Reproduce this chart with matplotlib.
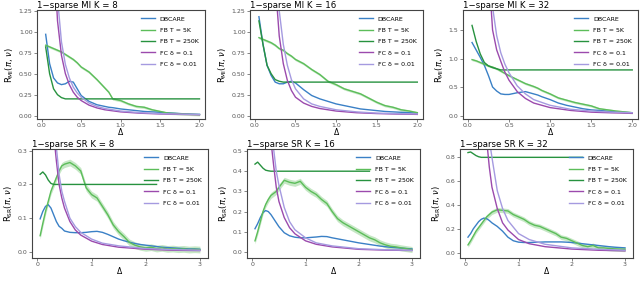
import numpy as np
import matplotlib
matplotlib.use("Agg")
import matplotlib.pyplot as plt

# ---- data ----
labels = ["DBCARE", "FB T = 5K", "FB T = 250K", "FC δ = 0.1", "FC δ = 0.01"]
colors = ["#3a80c6", "#5cbd5a", "#27923f", "#9b4aad", "#a59ae0"]

titles = ["1\u2212sparse MI K = 8", "1\u2212sparse MI K = 16", "1\u2212sparse MI K = 32",
          "1\u2212sparse SR K = 8", "1\u2212sparse SR K = 16", "1\u2212sparse SR K = 32"]

# top row (MI), common grid for DBCARE / FB curves
x_mi = [0.05, 0.1, 0.15, 0.2, 0.25, 0.3, 0.35, 0.4, 0.45, 0.5, 0.6, 0.7, 0.8,
        0.85, 0.9, 1.0, 1.1, 1.2, 1.3, 1.4, 1.5, 1.6, 1.7, 1.8, 1.9, 2.0]
fc_x_mi = [0.15, 0.2, 0.25, 0.3, 0.35, 0.4, 0.45, 0.5, 0.6, 0.7, 0.8, 1.0, 1.25, 1.5, 1.75, 2.0]

mi8_db = [0.97, 0.62, 0.45, 0.39, 0.37, 0.38, 0.41, 0.40, 0.32, 0.24, 0.17, 0.13, 0.11,
          0.10, 0.095, 0.08, 0.07, 0.06, 0.05, 0.045, 0.04, 0.033, 0.028, 0.022, 0.018, 0.015]
mi8_fb5 = [0.84, 0.82, 0.80, 0.78, 0.76, 0.73, 0.70, 0.67, 0.63, 0.58, 0.52, 0.43, 0.33,
           0.28, 0.20, 0.18, 0.14, 0.11, 0.10, 0.07, 0.05, 0.03, 0.025, 0.02, 0.015, 0.012]
mi8_fb250 = [0.82, 0.50, 0.32, 0.25, 0.215, 0.20, 0.20, 0.20, 0.20, 0.20, 0.20, 0.20, 0.20,
             0.20, 0.20, 0.20, 0.20, 0.20, 0.20, 0.20, 0.20, 0.20, 0.20, 0.20, 0.20, 0.20]
mi8_fc1 = [2.0, 1.13, 0.72, 0.50, 0.37, 0.28, 0.22, 0.18, 0.125, 0.092, 0.07, 0.045, 0.029, 0.02, 0.015, 0.011]
mi8_fc01 = [2.4, 1.4, 0.88, 0.61, 0.45, 0.34, 0.27, 0.22, 0.15, 0.11, 0.085, 0.055, 0.035, 0.024, 0.018, 0.014]

mi16_db = [1.18, 0.85, 0.60, 0.48, 0.40, 0.38, 0.38, 0.40, 0.41, 0.39, 0.31, 0.24, 0.20,
           0.185, 0.17, 0.14, 0.12, 0.10, 0.08, 0.07, 0.06, 0.05, 0.045, 0.04, 0.035, 0.03]
mi16_fb5 = [0.93, 0.91, 0.89, 0.87, 0.84, 0.80, 0.78, 0.74, 0.71, 0.67, 0.62, 0.55, 0.49,
            0.45, 0.41, 0.37, 0.32, 0.29, 0.26, 0.21, 0.16, 0.12, 0.10, 0.07, 0.055, 0.035]
mi16_fb250 = [1.13, 0.85, 0.60, 0.50, 0.43, 0.41, 0.40, 0.40, 0.40, 0.40, 0.40, 0.40, 0.40,
              0.40, 0.40, 0.40, 0.40, 0.40, 0.40, 0.40, 0.40, 0.40, 0.40, 0.40, 0.40, 0.40]
mi16_fc1 = [4.0, 2.5, 1.6, 0.95, 0.62, 0.42, 0.30, 0.22, 0.15, 0.11, 0.085, 0.055, 0.035, 0.025, 0.019, 0.015]
mi16_fc01 = [5.0, 3.0, 1.9, 1.25, 0.85, 0.60, 0.43, 0.32, 0.20, 0.14, 0.11, 0.07, 0.045, 0.03, 0.024, 0.02]

mi32_db = [1.28, 1.15, 1.02, 0.88, 0.70, 0.50, 0.43, 0.38, 0.37, 0.37, 0.40, 0.42, 0.38,
           0.36, 0.33, 0.28, 0.22, 0.18, 0.15, 0.12, 0.10, 0.09, 0.075, 0.065, 0.055, 0.05]
mi32_fb5 = [0.98, 0.96, 0.93, 0.90, 0.87, 0.85, 0.82, 0.78, 0.74, 0.70, 0.63, 0.56, 0.51,
            0.48, 0.44, 0.38, 0.31, 0.27, 0.23, 0.20, 0.17, 0.12, 0.10, 0.08, 0.065, 0.05]
mi32_fb250 = [1.58, 1.30, 1.08, 0.93, 0.87, 0.84, 0.82, 0.80, 0.80, 0.80, 0.80, 0.80, 0.80,
              0.80, 0.80, 0.80, 0.80, 0.80, 0.80, 0.80, 0.80, 0.80, 0.80, 0.80, 0.80, 0.80]
mi32_fc1 = [6.0, 4.0, 2.6, 1.5, 1.15, 0.95, 0.76, 0.62, 0.42, 0.30, 0.22, 0.14, 0.09, 0.06, 0.048, 0.04]
mi32_fc01 = [7.0, 5.0, 3.2, 1.9, 1.4, 1.1, 0.90, 0.75, 0.52, 0.38, 0.28, 0.18, 0.11, 0.08, 0.06, 0.05]

# bottom row (SR)
x_sr = [0.05, 0.1, 0.15, 0.2, 0.25, 0.3, 0.35, 0.4, 0.45, 0.5, 0.6, 0.7, 0.8, 0.9, 1.0,
        1.1, 1.2, 1.3, 1.4, 1.5, 1.6, 1.7, 1.8, 1.9, 2.0, 2.1, 2.2, 2.3, 2.4, 2.5,
        2.6, 2.7, 2.8, 2.9, 3.0]
x_fb250_sr = [0.05, 0.1, 0.15, 0.2, 0.25, 0.3, 0.35, 0.4, 0.5, 1.0, 1.5, 2.0, 2.2]
fc_x_sr = [0.2, 0.25, 0.3, 0.35, 0.4, 0.45, 0.5, 0.6, 0.7, 0.8, 1.0, 1.2, 1.5, 2.0, 2.5, 3.0]

sr8_db = [0.098, 0.12, 0.135, 0.14, 0.13, 0.11, 0.09, 0.076, 0.07, 0.062, 0.058, 0.057, 0.057,
          0.058, 0.06, 0.061, 0.058, 0.052, 0.045, 0.038, 0.033, 0.029, 0.025, 0.022, 0.02,
          0.018, 0.016, 0.014, 0.013, 0.012, 0.011, 0.01, 0.009, 0.009, 0.008]
sr8_fb5 = [0.048, 0.085, 0.12, 0.15, 0.18, 0.20, 0.22, 0.24, 0.255, 0.26, 0.265, 0.255, 0.24,
           0.19, 0.17, 0.16, 0.135, 0.11, 0.08, 0.06, 0.045, 0.028, 0.02, 0.015, 0.012,
           0.014, 0.01, 0.012, 0.009, 0.01, 0.008, 0.009, 0.007, 0.008, 0.007]
sr8_fb250 = [0.23, 0.237, 0.228, 0.213, 0.203, 0.20, 0.20, 0.20, 0.20, 0.20, 0.20, 0.20, 0.20]
sr8_fc1 = [0.8, 0.5, 0.35, 0.27, 0.20, 0.16, 0.13, 0.09, 0.065, 0.05, 0.032, 0.022, 0.014, 0.008, 0.005, 0.004]
sr8_fc01 = [0.9, 0.6, 0.40, 0.31, 0.23, 0.18, 0.15, 0.10, 0.075, 0.058, 0.038, 0.026, 0.018, 0.01, 0.007, 0.005]

sr16_db = [0.115, 0.14, 0.17, 0.195, 0.205, 0.20, 0.185, 0.165, 0.145, 0.125, 0.095, 0.08, 0.073,
           0.07, 0.07, 0.072, 0.074, 0.077, 0.076, 0.07, 0.065, 0.06, 0.055, 0.05, 0.045,
           0.041, 0.037, 0.033, 0.029, 0.026, 0.023, 0.021, 0.019, 0.017, 0.015]
sr16_fb5 = [0.055, 0.10, 0.15, 0.20, 0.235, 0.26, 0.28, 0.29, 0.30, 0.32, 0.355, 0.345, 0.34,
            0.35, 0.32, 0.30, 0.285, 0.26, 0.24, 0.20, 0.165, 0.145, 0.13, 0.115, 0.10,
            0.085, 0.07, 0.06, 0.045, 0.035, 0.028, 0.025, 0.02, 0.016, 0.012]
sr16_fb250 = [0.435, 0.445, 0.43, 0.415, 0.405, 0.402, 0.40, 0.40, 0.40, 0.40, 0.40, 0.40, 0.40]
sr16_fc1 = [1.5, 1.0, 0.70, 0.55, 0.43, 0.32, 0.25, 0.17, 0.12, 0.09, 0.055, 0.038, 0.025, 0.013, 0.009, 0.007]
sr16_fc01 = [1.8, 1.2, 0.85, 0.65, 0.51, 0.40, 0.33, 0.22, 0.15, 0.11, 0.07, 0.045, 0.03, 0.016, 0.011, 0.008]

sr32_db = [0.13, 0.16, 0.20, 0.23, 0.26, 0.28, 0.29, 0.285, 0.27, 0.25, 0.22, 0.18, 0.13,
           0.10, 0.088, 0.085, 0.085, 0.087, 0.088, 0.09, 0.09, 0.09, 0.09, 0.088, 0.085,
           0.08, 0.075, 0.07, 0.065, 0.06, 0.055, 0.05, 0.046, 0.043, 0.04]
sr32_fb5 = [0.065, 0.10, 0.14, 0.18, 0.21, 0.24, 0.27, 0.30, 0.32, 0.34, 0.36, 0.355, 0.35,
            0.32, 0.30, 0.28, 0.25, 0.23, 0.22, 0.20, 0.18, 0.16, 0.13, 0.12, 0.10,
            0.08, 0.06, 0.05, 0.06, 0.04, 0.04, 0.035, 0.032, 0.03, 0.028]
sr32_fb250 = [0.84, 0.845, 0.83, 0.815, 0.805, 0.80, 0.80, 0.80, 0.80, 0.80, 0.80, 0.80, 0.80]
sr32_fc1 = [3.0, 2.0, 1.4, 1.1, 0.95, 0.72, 0.55, 0.37, 0.25, 0.19, 0.11, 0.075, 0.05, 0.03, 0.02, 0.015]
sr32_fc01 = [3.5, 2.4, 1.7, 1.3, 1.1, 0.95, 0.80, 0.52, 0.37, 0.27, 0.16, 0.11, 0.07, 0.04, 0.028, 0.02]

ribbon_half = [0.015, 0.015, 0.02, 0.01, 0.015, 0.02]

# ---- layout ----
fig = plt.figure(figsize=(6.4, 2.88), dpi=100)

boxes = [
    (37, 10, 205, 119), (250, 10, 423, 119), (463, 10, 638, 119),
    (32, 149, 208, 258), (247, 149, 420, 258), (460, 149, 633, 258),
]

panels = [
    (x_mi, mi8_db, mi8_fb5, x_mi, mi8_fb250, fc_x_mi, mi8_fc1, mi8_fc01),
    (x_mi, mi16_db, mi16_fb5, x_mi, mi16_fb250, fc_x_mi, mi16_fc1, mi16_fc01),
    (x_mi, mi32_db, mi32_fb5, x_mi, mi32_fb250, fc_x_mi, mi32_fc1, mi32_fc01),
    (x_sr, sr8_db, sr8_fb5, x_fb250_sr, sr8_fb250, fc_x_sr, sr8_fc1, sr8_fc01),
    (x_sr, sr16_db, sr16_fb5, x_fb250_sr, sr16_fb250, fc_x_sr, sr16_fc1, sr16_fc01),
    (x_sr, sr32_db, sr32_fb5, x_fb250_sr, sr32_fb250, fc_x_sr, sr32_fc1, sr32_fc01),
]

ylims = [(-0.04, 1.26), (-0.04, 1.26), (-0.06, 1.85),
         (-0.018, 0.305), (-0.03, 0.51), (-0.045, 0.87)]
yticks = [[0, 0.25, 0.5, 0.75, 1.0, 1.25], [0, 0.25, 0.5, 0.75, 1.0, 1.25], [0, 0.5, 1.0, 1.5],
          [0, 0.1, 0.2, 0.3], [0, 0.1, 0.2, 0.3, 0.4, 0.5], [0, 0.2, 0.4, 0.6, 0.8]]
yfmt = ["{:.2f}", "{:.2f}", "{:.1f}", "{:.1f}", "{:.1f}", "{:.1f}"]

W, H = 640, 288
for i, (box, p) in enumerate(zip(boxes, panels)):
    l, t, r, b = box
    ax = fig.add_axes([l / W, 1 - b / H, (r - l) / W, (b - t) / H])
    xd, db, fb5, x250, fb250, xfc, fc1, fc01 = p

    fb5 = np.array(fb5)
    ax.fill_between(xd, fb5 - ribbon_half[i], fb5 + ribbon_half[i],
                    color=colors[1], alpha=0.35, lw=0)
    ax.plot(xd, db, color=colors[0], lw=1.0, label=labels[0])
    ax.plot(xd, fb5, color=colors[1], lw=1.0, label=labels[1])
    ax.plot(x250, fb250, color=colors[2], lw=1.0, label=labels[2])
    ax.plot(xfc, fc1, color=colors[3], lw=1.0, label=labels[3])
    ax.plot(xfc, fc01, color=colors[4], lw=1.0, label=labels[4])

    if i < 3:
        ax.set_xlim(-0.06, 2.07)
        ax.set_xticks([0, 0.5, 1.0, 1.5, 2.0])
        ax.set_xticklabels(["0.0", "0.5", "1.0", "1.5", "2.0"])
        ax.set_ylabel(r"$\mathrm{R}_{\mathrm{MI}}(\pi,\,\nu)$", fontsize=6, labelpad=2)
    else:
        ax.set_xlim(-0.1, 3.15)
        ax.set_xticks([0, 1, 2, 3])
        ax.set_ylabel(r"$\mathrm{R}_{\mathrm{SR}}(\pi,\,\nu)$", fontsize=6, labelpad=2)
    ax.set_ylim(*ylims[i])
    ax.set_yticks(yticks[i])
    ax.set_yticklabels([yfmt[i].format(v) for v in yticks[i]])
    ax.set_xlabel("Δ", fontsize=5.5, labelpad=0)

    ax.tick_params(labelsize=4.5, colors="#555555", length=2, width=0.5, pad=1.2)
    for s in ax.spines.values():
        s.set_color("#444444")
        s.set_linewidth(0.8)
    ax.set_title(titles[i], loc="left", fontsize=6.2, pad=1.5)

    ax.legend(loc="upper right", frameon=False, fontsize=4.5, handlelength=2.2,
              labelspacing=0.95, borderaxespad=0.6, handletextpad=0.8)

fig.savefig("out.png", dpi=100)
